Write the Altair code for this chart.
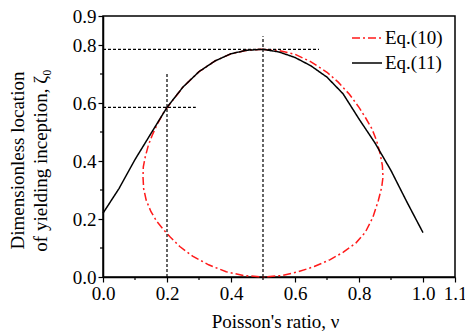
import altair as alt
import pandas as pd

# Eq.(11) curve (black, solid)
eq11_v = [0.0, 0.05, 0.1, 0.15, 0.2, 0.25, 0.3, 0.35, 0.4, 0.45, 0.5,
          0.55, 0.6, 0.65, 0.7, 0.75, 0.8, 0.85, 0.9, 0.95, 1.0]
eq11_z = [0.220, 0.305, 0.405, 0.495, 0.585, 0.655, 0.708, 0.745, 0.770, 0.782, 0.785,
          0.776, 0.757, 0.728, 0.689, 0.632, 0.545, 0.462, 0.367, 0.258, 0.153]

# Eq.(10) closed loop (red, dash-dot), traced from the top, counter-clockwise
eq10_v = [0.50, 0.45, 0.40, 0.35, 0.30, 0.25, 0.21, 0.19, 0.17, 0.155, 0.142, 0.132, 0.126,
          0.125, 0.127, 0.135, 0.150, 0.168, 0.19, 0.21, 0.24, 0.28, 0.33, 0.385, 0.44,
          0.50, 0.56, 0.61, 0.66, 0.71, 0.75, 0.79, 0.82, 0.843, 0.86, 0.871, 0.875,
          0.873, 0.866, 0.855, 0.84, 0.82, 0.80, 0.77, 0.735, 0.70, 0.65, 0.60, 0.55, 0.50]
eq10_z = [0.785, 0.782, 0.770, 0.745, 0.708, 0.655, 0.598, 0.568, 0.528, 0.492, 0.455, 0.414, 0.38,
          0.345, 0.305, 0.265, 0.225, 0.192, 0.162, 0.138, 0.105, 0.072, 0.042, 0.018, 0.005,
          0.0, 0.005, 0.018, 0.036, 0.060, 0.085, 0.117, 0.155, 0.205, 0.262, 0.31, 0.345,
          0.385, 0.425, 0.47, 0.512, 0.55, 0.585, 0.630, 0.672, 0.706, 0.742, 0.768, 0.781, 0.785]

series_names = ["Eq.(10)", "Eq.(11)"]
series_colors = ["#ff1a1a", "#000000"]
series_dash = [[8, 3, 2, 3], [1, 0]]

# dashed guide lines
h_y = [0.785, 0.585]
h_x2 = [0.675, 0.29]
v_x = [0.5, 0.2]
v_y2 = [0.83, 0.705]

# axis ticks
x_major = [0.0, 0.2, 0.4, 0.6, 0.8, 1.0, 1.1]
x_minor = [0.1, 0.3, 0.5, 0.7, 0.9]
y_major = [0.0, 0.2, 0.4, 0.6, 0.8, 0.9]
y_minor = [0.1, 0.3, 0.5, 0.7]

W, H = 352, 261

FONT = "Liberation Serif, Times New Roman, serif"

xscale = alt.Scale(domain=[0, 1.1], nice=False, zero=False)
yscale = alt.Scale(domain=[0, 0.9], nice=False, zero=False)

xaxis = alt.Axis(
    values=x_major, format=".1f", grid=False, tickSize=5,
    labelOverlap=False, labelFlush=False, labelPadding=2,
    labelFont=FONT, labelFontSize=19, labelColor="black",
    title="Poisson's ratio, ν", titleX=172, titleY=50, titleBaseline="alphabetic",
)
yaxis = alt.Axis(
    values=y_major, format=".1f", grid=False, tickSize=5,
    labelOverlap=False, labelFlush=False, labelPadding=2,
    labelFont=FONT, labelFontSize=19, labelColor="black",
    title=["Dimensionless location", "of yielding inception, ζ₀"],
    titleX=-80, titleY=144, titleAlign="center", titleBaseline="alphabetic",
    titleLineHeight=23, titleAngle=270,
)

layers = []
for k, name in enumerate(series_names):
    vals = (eq10_v, eq10_z) if k == 0 else (eq11_v, eq11_z)
    df = pd.DataFrame({"v": vals[0], "z": vals[1], "ord": list(range(len(vals[0])))})
    if k == 0:
        enc = dict(x=alt.X("v:Q", scale=xscale, axis=xaxis), y=alt.Y("z:Q", scale=yscale, axis=yaxis))
    else:
        enc = dict(x=alt.X("v:Q", scale=xscale), y=alt.Y("z:Q", scale=yscale))
    layers.append(
        alt.Chart(df).mark_line(strokeWidth=1.5, color=series_colors[k], strokeDash=series_dash[k])
        .encode(order="ord:Q", **enc)
    )
    # legend entry
    ly = 22 + 25 * k
    layers.append(
        alt.Chart(pd.DataFrame({"s": [name]})).mark_rule(
            strokeWidth=1.5, color=series_colors[k], strokeDash=series_dash[k]
        ).encode(x=alt.value(249), x2=alt.value(279), y=alt.value(ly))
    )
    layers.append(
        alt.Chart(pd.DataFrame({"s": [name]})).mark_text(
            font=FONT, fontSize=19, color="black", align="left", baseline="middle"
        ).encode(text="s:N", x=alt.value(282), y=alt.value(ly))
    )

hdf = pd.DataFrame({"y": h_y, "x": [0.0] * len(h_y), "x2": h_x2})
vdf = pd.DataFrame({"x": v_x, "y": [0.0] * len(v_x), "y2": v_y2})
xmin_df = pd.DataFrame({"x": x_minor})
ymin_df = pd.DataFrame({"y": y_minor})

hrules = alt.Chart(hdf).mark_rule(color="black", strokeDash=[3, 2], strokeWidth=1.2).encode(
    x=alt.X("x:Q", scale=xscale), x2="x2:Q", y=alt.Y("y:Q", scale=yscale)
)
vrules = alt.Chart(vdf).mark_rule(color="black", strokeDash=[3, 2], strokeWidth=1.2).encode(
    x=alt.X("x:Q", scale=xscale), y=alt.Y("y:Q", scale=yscale), y2="y2:Q"
)
xminor = alt.Chart(xmin_df).mark_rule(color="black", strokeWidth=1.2).encode(
    x=alt.X("x:Q", scale=xscale), y=alt.value(H), y2=alt.value(H + 3)
)
yminor = alt.Chart(ymin_df).mark_rule(color="black", strokeWidth=1.2).encode(
    y=alt.Y("y:Q", scale=yscale), x=alt.value(-3), x2=alt.value(0)
)

chart = alt.layer(*layers, hrules, vrules, xminor, yminor).properties(
    width=W, height=H,
    autosize=alt.AutoSizeParams(type="none"),
    padding={"left": 103, "top": 16, "right": 10, "bottom": 54},
    background="white",
).configure_view(
    stroke="black", strokeWidth=1.5
).configure_axis(
    domainColor="black", domainWidth=1.5, tickColor="black", tickWidth=1.2,
    labelFont=FONT, labelFontSize=19, labelColor="black",
    titleFont=FONT, titleFontSize=19, titleColor="black", titleFontWeight="normal",
)

chart.save("out.html", embed_options={"renderer": "svg", "actions": False})
